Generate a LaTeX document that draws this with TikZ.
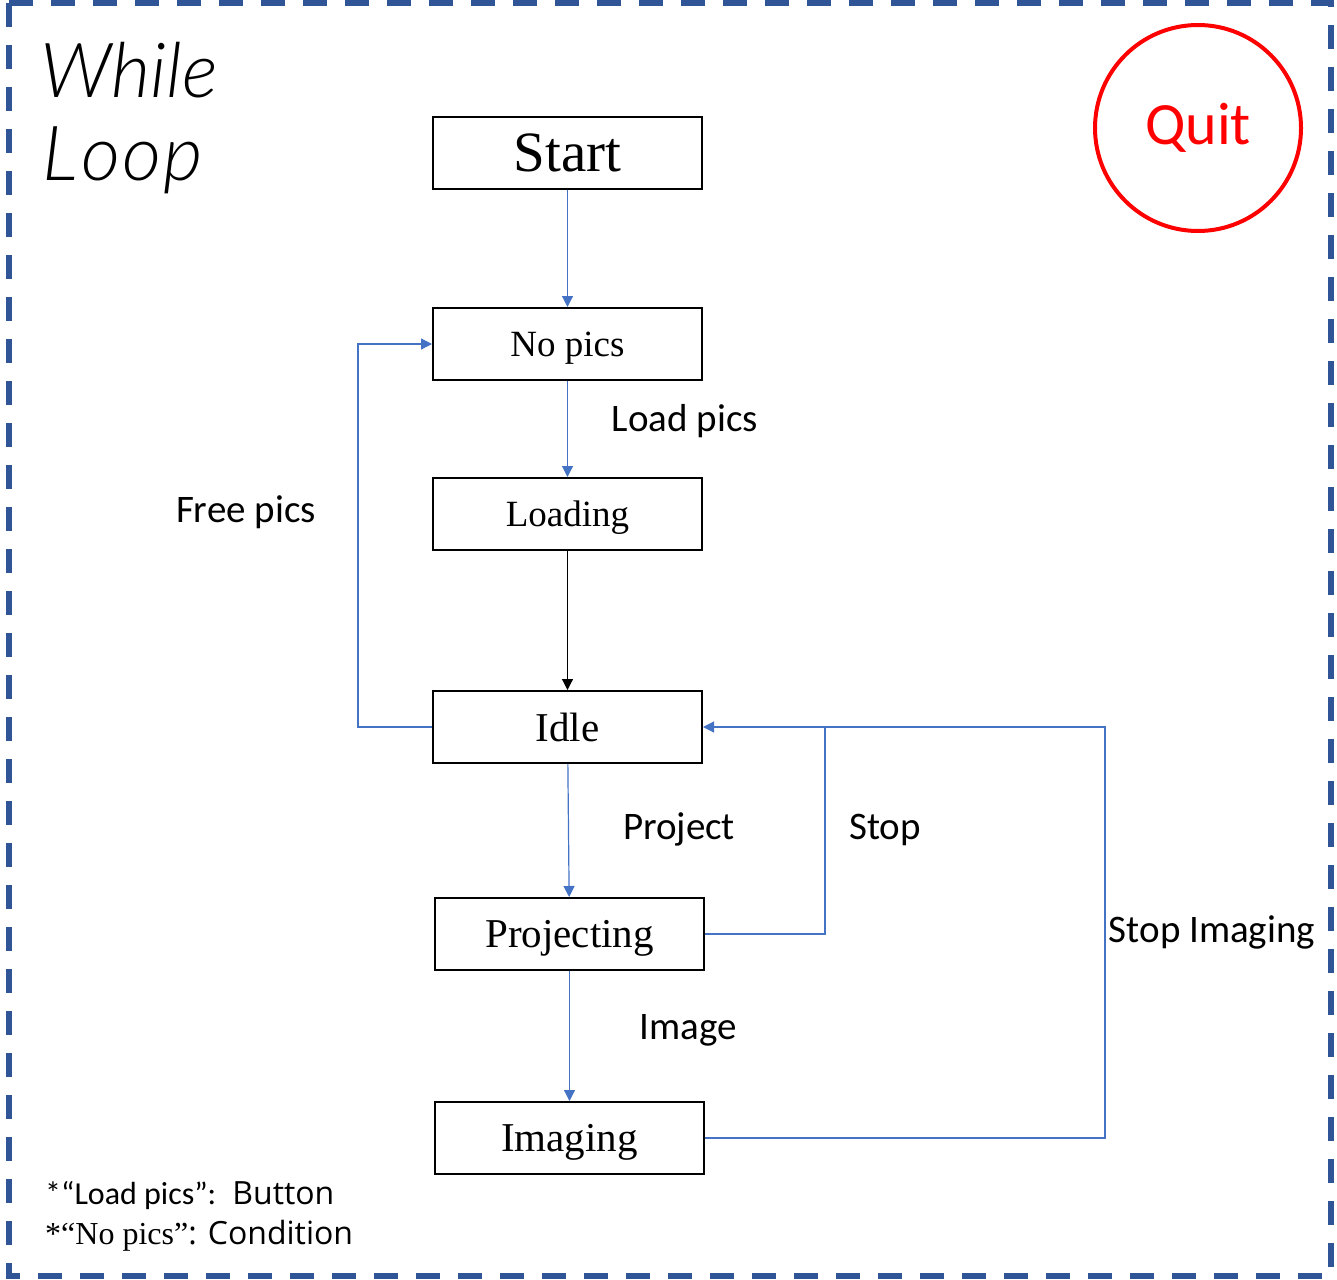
\documentclass[tikz,border=0pt]{standalone}
\usepackage{fontspec}
\setmainfont{Liberation Serif}
\newfontfamily\handfont{Carlito}
\newfontfamily\titlefont{Lato Light}
\newfontfamily\plainfont{Open Sans}
\usetikzlibrary{arrows.meta,calc,positioning}
\definecolor{wlBlue}{HTML}{4472C4}
\definecolor{wlFrame}{HTML}{2F5597}
\definecolor{wlRed}{HTML}{FF0000}
\tikzset{
 loopfig/.style={line cap=butt,line join=miter},
 state/.style={draw=black,fill=white,line width=2pt,minimum width=269pt,minimum height=72pt,inner sep=0pt,text depth=0pt,yshift=0pt},
 link/.style={draw=wlBlue,line width=1.2pt,-{Triangle[length=11pt,width=11pt]}},
 plainlink/.style={link,draw=black,-{Triangle[length=11pt,width=11pt]}},
 tag/.style={font=\handfont\fontsize{39}{42}\selectfont,inner sep=0pt},
 frame/.style={draw=wlFrame,line width=5.5pt,dash pattern=on 24pt off 18pt},
 quitbtn/.style={circle,draw=wlRed,line width=4pt,minimum size=206pt,inner sep=0pt,text=wlRed,
   font=\handfont\fontsize{60}{64}\selectfont},
 note/.style={anchor=west,inner sep=0pt,font=\fontsize{32}{36}\selectfont}
}
\begin{document}
\begin{tikzpicture}[loopfig,x=1pt,y=-1pt]
 \useasboundingbox (0,0) rectangle (1337,1279);
 \draw[frame] (9,3) rectangle (1331,1276);
 \node[anchor=west,inner sep=0pt,font=\titlefont\itshape\fontsize{76}{80}\selectfont] (while) at (40,70) {While};
 \node[anchor=west,inner sep=0pt,font=\titlefont\itshape\fontsize{76}{80}\selectfont] (loop) at (42,160) {L\kern4pt o\kern2pt o\kern2pt p};
 \node[quitbtn] (quit) at (1198,128) {Quit};
 % states
 \node[state,font=\fontsize{57}{60}\selectfont] (start) at (567.5,153) {Start};
 \node[state,font=\fontsize{37}{40}\selectfont] (nopics) at (567.5,344) {No pics};
 \node[state,font=\fontsize{37}{40}\selectfont] (loading) at (567.5,514) {Loading};
 \node[state,font=\fontsize{41}{44}\selectfont] (idle) at (567.5,727) {Idle};
 \node[state,font=\fontsize{41}{44}\selectfont] (projecting) at (569.5,934) {Projecting};
 \node[state,font=\fontsize{41}{44}\selectfont] (imaging) at (569.5,1138) {Imaging};
 \coordinate (freebend) at (358,727);
 \coordinate (stopbend) at (825,727);
 \coordinate (imgbend) at (1105,727);
 % transitions
 \draw[link] (start) -- (nopics);
 \draw[link] (nopics) -- (loading);
 \draw[plainlink] (loading) -- (idle);
 \draw[link] (idle) -- (projecting);
 \draw[link] (projecting) -- (imaging);
 \draw[link] (idle.west) -- (freebend) |- (nopics.west);
 \draw[link] (projecting.east) -| (stopbend) -- (idle.east);
 \draw[link,-] (imaging.east) -| (imgbend) -- (stopbend);
 \node[tag] (loadlbl) at (685,421) {Load pics};
 \node[tag] (freelbl) at (246,512) {Free pics};
 \node[tag] (projlbl) at (679,829) {Project};
 \node[tag] (stoplbl) at (885,830) {Stop};
 \node[tag] (imglbl) at (688,1030) {Image};
 \node[tag] (stopimglbl) at (1212,932) {Stop Imaging};
 % legend
 \node[note] (note1) at (45,1196) {{\handfont *“Load pics”:}\ \ {\plainfont Button}};
 \node[note] (note2) at (45,1236) {*“No pics”{\plainfont : Condition}};
\end{tikzpicture}
\end{document}
